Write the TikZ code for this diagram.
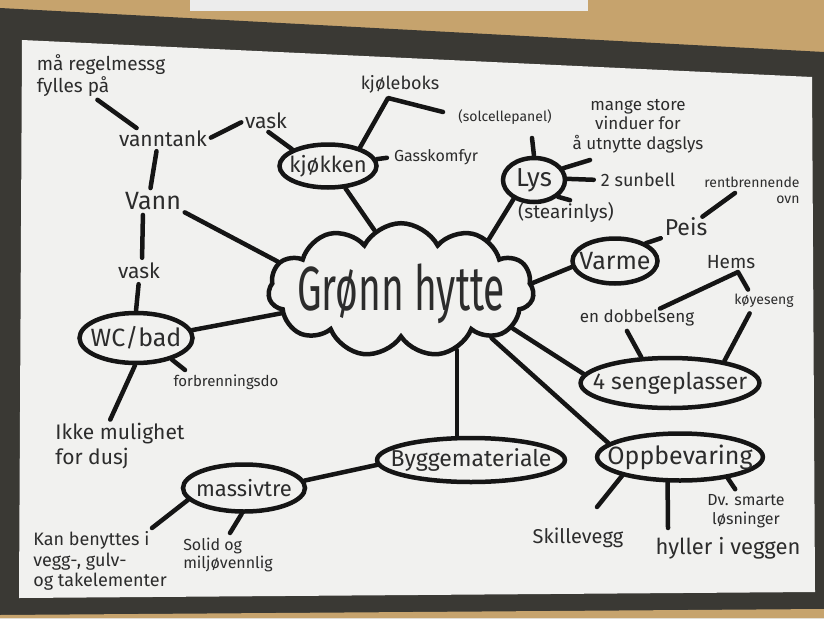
\documentclass[tikz,border=0pt]{standalone}
\usepackage{fontspec}
\setmainfont{Fira Sans}
\usetikzlibrary{shapes.geometric, shapes.symbols, calc}

\definecolor{cork}{HTML}{C6A36D}
\definecolor{board}{HTML}{3A3934}
\definecolor{sheet}{HTML}{F1F1EF}
\definecolor{inkc}{HTML}{2C2C2C}
\definecolor{penc}{HTML}{151515}

\begin{document}
\begin{tikzpicture}[x=1pt, y=-1pt,
  pen/.style={draw=penc, line width=4.5pt, line cap=round, line join=round},
  oval/.style={ellipse, draw=penc, line width=4.5pt, inner xsep=-14pt, inner ysep=-2pt,
               text=inkc, font=\fontsize{#1}{#1}\selectfont},
  oval/.default=22,
  cloudy/.style={cloud, cloud puffs=11, cloud puff arc=125, aspect=2.8, draw=penc,
                 line width=4.5pt, minimum width=200pt, minimum height=60pt,
                 inner xsep=-12pt, inner ysep=0pt, text=inkc, font=\fontsize{39}{39}\selectfont},
  lbl/.style={text=inkc, align=center, inner sep=1pt,
              font={\fontsize{#1}{#1}\selectfont\setlength{\baselineskip}{1.15em}}},
  lbl/.default=17]
  \useasboundingbox (0,0) rectangle (824,618);
  % bakgrunn: oppslagstavle og ark
  \fill[cork] (0,0) rectangle (824,618);
  \fill[board] (0,8) -- (824,52) -- (824,618) -- (0,618) -- cycle;
  \fill[gray!15] (190,0) rectangle (588,11);
  \fill[cork] (0,615) -- (824,609) -- (824,618) -- (0,618) -- cycle;
  \fill[sheet] (22,40) -- (812,77) -- (815,592) -- (19,598) -- cycle;

  % hovedtema
  \node[cloudy] (hytte) at (401,290)
    {\smash{\raisebox{-20pt}{\scalebox{1}[1.6]{Grønn hytte}}}};

  % greiner
  \node[oval, minimum width=97pt, minimum height=43pt] (kjokken) at (328,166) {kjøkken};
  \node[oval=26, minimum width=62pt, minimum height=44pt] (lys) at (534,180) {Lys};
  \node[oval=25, minimum width=85pt, minimum height=45pt] (varme) at (615,261) {Varme};
  \node[oval=23, minimum width=170pt, minimum height=50pt] (seng) at (670,383) {4 sengeplasser};
  \node[oval=25, minimum width=154pt, minimum height=47pt] (opp) at (680,457) {Oppbevaring};
  \node[oval=23, minimum width=178pt, minimum height=44pt] (bygg) at (471,460) {Byggemateriale};
  \node[oval, minimum width=122pt, minimum height=47pt] (massiv) at (244,488) {massivtre};
  \node[oval=25, minimum width=113pt, minimum height=50pt] (wc) at (136,338) {WC/bad};

  % stikkord
  \node[lbl=19, align=left] (fylles) at (101,76) {må regelmessg\\fylles på};
  \node[lbl=21] (tank) at (163,139) {vanntank};
  \node[lbl=21] (vask1) at (266,121) {vask};
  \node[lbl=25] (vann) at (153,201) {Vann};
  \node[lbl=21] (vask2) at (139,271) {vask};
  \node[lbl=15] (forbr) at (226,382) {forbrenningsdo};
  \node[lbl=21, align=left] (ikke) at (120,446) {Ikke mulighet\\for dusj};
  \node[lbl=18] (kjol) at (400,84) {kjøleboks};
  \node[lbl=14] (solc) at (505,117) {(solcellepanel)};
  \node[lbl=16] (gass) at (436,157) {Gasskomfyr};
  \node[lbl] (vind) at (638,126) {mange store\\vinduer for\\å utnytte dagslys};
  \node[lbl=18] (sun) at (638,180) {2 sunbell};
  \node[lbl=19] (stear) at (566,212) {(stearinlys)};
  \node[lbl=14, align=right] (rent) at (752,190) {rentbrennende\\ovn};
  \node[lbl=23] (peis) at (686,227) {Peis};
  \node[lbl=19] (hems) at (731,262) {Hems};
  \node[lbl=14] (koy) at (764,301) {køyeseng};
  \node[lbl] (dobbel) at (637,318) {en dobbelseng};
  \node[lbl=16] (dv) at (746,511) {Dv. smarte\\løsninger};
  \node[lbl=20] (skille) at (578,538) {Skillevegg};
  \node[lbl=22] (hyller) at (728,548) {hyller i veggen};
  \node[lbl=18, align=left] (kan) at (100,561) {Kan benyttes i\\vegg-, gulv-\\og takelementer};
  \node[lbl=16, align=left] (solid) at (228,555) {Solid og\\miljøvennlig};

  % frie endepunkter
  \coordinate (kjknekk) at (388,98);
  \coordinate (kjende) at (443,112);
  \coordinate (lysopp) at (532,138);
  \coordinate (straale) at (590,160);
  \coordinate (ovnE) at (735,193);
  \coordinate (hemsknekk) at (738,272);
  \coordinate (skilleE) at (597,507);
  \coordinate (hyllerE) at (668,528);
  \coordinate (kanE) at (152,528);
  \coordinate (solidE) at (230,533);
  \coordinate (doE) at (185,370);

  % fra skya
  \draw[pen] (hytte.114) -- (kjokken.-52);
  \draw[pen] (hytte.30) -- (lys.223);
  \draw[pen] (hytte.3) -- (varme.188);
  \draw[pen] (hytte.-19) -- (seng.174);
  \draw[pen] (hytte.-28) -- (opp.169);
  \draw[pen] (hytte.-47) -- (hytte.-47 |- bygg.north);
  \draw[pen] (hytte.191) -- (wc.8);
  \draw[pen, shorten >=3pt] (hytte.167) -- (vann.south east);

  % vann
  \draw[pen, shorten <=3pt, shorten >=3pt] ([xshift=-6pt]fylles.south) -- ([xshift=-24pt]tank.north);
  \draw[pen, shorten <=3pt, shorten >=3pt] (tank.east) -- (vask1.west);
  \draw[pen, shorten >=3pt] (kjokken.155) -- (vask1.south);
  \draw[pen, shorten <=3pt, shorten >=3pt] ([xshift=-6pt]tank.south) -- ([xshift=-3pt]vann.north);
  \draw[pen, shorten <=4pt, shorten >=4pt] ([xshift=-10pt]vann.south) -- ([xshift=3pt]vask2.north);
  \draw[pen, shorten <=4pt] (vask2.south) -- (wc.north);

  % kjøkken og lys
  \draw[pen] (kjokken.30) -- (kjknekk) -- (kjende);
  \draw[pen, shorten >=6pt] (kjokken.8) -- (gass.west);
  \draw[pen] (lys.north) -- (lysopp);
  \draw[pen] (lys.22) -- (straale);
  \draw[pen, shorten >=6pt] (lys.2) -- (sun.west);
  \draw[pen, shorten >=2pt] (lys.-35) -- ([xshift=6pt]stear.north);

  % varme og senger
  \draw[pen, shorten >=3pt] (varme.30) -- (peis.south west);
  \draw[pen] ([xshift=-6pt]peis.north east) -- (ovnE);
  \draw[pen, shorten >=4pt] (seng.138) -- ([xshift=-12pt]dobbel.south);
  \draw[pen, shorten >=5pt] (seng.22) -- ([xshift=-12pt]koy.south);
  \draw[pen, shorten >=4pt] ([xshift=23pt]dobbel.north) -- (hemsknekk) -- ([xshift=-14pt]koy.north);

  % oppbevaring
  \draw[pen] (opp.198) -- (skilleE);
  \draw[pen] (opp.244) -- (hyllerE);
  \draw[pen, shorten >=5pt] (opp.-24) -- ([xshift=-8pt]dv.north);

  % byggemateriale
  \draw[pen] (bygg.183) -- (massiv.7);
  \draw[pen] (massiv.192) -- (kanE);
  \draw[pen] (massiv.-95) -- (solidE);

  % wc
  \draw[pen, shorten >=3pt] (wc.-92) -- ([xshift=-11pt]ikke.north);
  \draw[pen] (wc.-31) -- (doE);
\end{tikzpicture}
\end{document}
